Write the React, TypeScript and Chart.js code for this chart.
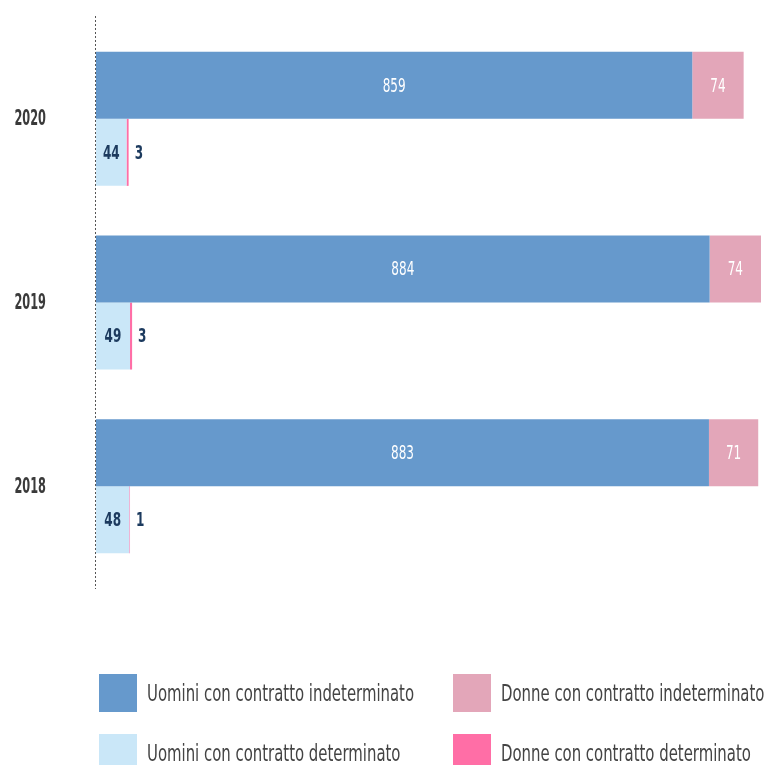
import React, { useEffect, useRef } from "react";
import { Chart, registerables } from "chart.js";

Chart.register(...registerables);

const years = ["2020", "2019", "2018"];
const uominiIndeterminato = [859, 884, 883];
const donneIndeterminato = [74, 74, 71];
const uominiDeterminato = [44, 49, 48];
const donneDeterminato = [3, 3, 1];

const seriesNames = [
  "Uomini con contratto indeterminato",
  "Donne con contratto indeterminato",
  "Uomini con contratto determinato",
  "Donne con contratto determinato",
];
const colors = ["#6699CC", "#E3A6B9", "#CAE7F8", "#FF6EA6"];
const labelColors = ["#FFFFFF", "#FFFFFF", "#1C3A5E", "#1C3A5E"];
const labelWeights = ["normal", "normal", "bold", "bold"];

const FONT = "'DejaVu Sans', sans-serif";

// draw condensed text: squeeze horizontally around an anchor
function drawSqueezed(ctx: any, txt: string, x: number, y: number, align: string, squeeze: number) {
  ctx.save();
  ctx.translate(x, y);
  ctx.scale(squeeze, 1);
  ctx.textAlign = align;
  ctx.fillText(txt, 0, 0);
  ctx.restore();
}

const labelPlugin = {
  id: "valueLabels",
  afterDatasetsDraw(chart: any) {
    const ctx = chart.ctx;
    const SQ = 0.67;
    chart.data.datasets.forEach((ds: any, di: number) => {
      const meta = chart.getDatasetMeta(di);
      meta.data.forEach((el: any, i: number) => {
        const txt = String(ds.data[i]);
        const x0 = Math.min(el.base, el.x);
        const x1 = Math.max(el.base, el.x);
        ctx.save();
        ctx.font = `${labelWeights[di]} condensed 20px ${FONT}`;
        ctx.textBaseline = "middle";
        ctx.fillStyle = labelColors[di];
        const w = ctx.measureText(txt).width * SQ;
        if (x1 - x0 > w + 8) {
          drawSqueezed(ctx, txt, (x0 + x1) / 2, el.y + 1, "center", SQ);
        } else {
          drawSqueezed(ctx, txt, x1 + 6, el.y + 1, "left", SQ);
        }
        ctx.restore();
      });
    });
  },
};

const yLabelPlugin = {
  id: "yLabels",
  afterDraw(chart: any) {
    const ctx = chart.ctx;
    const scale = chart.scales.y;
    ctx.save();
    ctx.font = `bold condensed 21px ${FONT}`;
    ctx.fillStyle = "#3a3a3a";
    ctx.textBaseline = "middle";
    scale.ticks.forEach((t: any, i: number) => {
      const label = scale.getLabelForValue(t.value);
      drawSqueezed(ctx, label, scale.right - 50, scale.getPixelForTick(i) + 1, "right", 0.6);
    });
    ctx.restore();
  },
};

const axisLinePlugin = {
  id: "dottedAxis",
  afterDraw(chart: any) {
    const { ctx, chartArea } = chart;
    ctx.save();
    ctx.strokeStyle = "#555";
    ctx.lineWidth = 1;
    ctx.setLineDash([2, 2]);
    ctx.beginPath();
    ctx.moveTo(chartArea.left - 0.5, chartArea.top - 11);
    ctx.lineTo(chartArea.left - 0.5, chartArea.bottom + 11);
    ctx.stroke();
    ctx.restore();
  },
};

export default function App() {
  const ref = useRef<HTMLCanvasElement>(null);
  useEffect(() => {
    if (!ref.current) return;
    const chart = new Chart(ref.current, {
      type: "bar",
      data: {
        labels: years,
        datasets: [
          { label: seriesNames[0], data: uominiIndeterminato, backgroundColor: colors[0], stack: "ind" },
          { label: seriesNames[1], data: donneIndeterminato, backgroundColor: colors[1], stack: "ind" },
          { label: seriesNames[2], data: uominiDeterminato, backgroundColor: colors[2], stack: "det" },
          { label: seriesNames[3], data: donneDeterminato, backgroundColor: colors[3], stack: "det" },
        ],
      },
      options: {
        indexAxis: "y",
        animation: false,
        responsive: false,
        maintainAspectRatio: false,
        datasets: { bar: { categoryPercentage: 0.73, barPercentage: 1, borderWidth: 0 } },
        layout: { padding: { top: 27, bottom: 187, right: 4, left: 0 } },
        plugins: { legend: { display: false }, tooltip: { enabled: false } },
        scales: {
          x: {
            stacked: true,
            display: false,
            min: 0,
            max: 958,
          },
          y: {
            stacked: true,
            grid: { display: false, drawTicks: false },
            border: { display: false },
            ticks: { display: false },
            afterFit(scale: any) {
              scale.width = 96;
              scale.paddingTop = 0;
              scale.paddingBottom = 0;
            },
          },
        },
      },
      plugins: [labelPlugin, yLabelPlugin, axisLinePlugin],
    });
    return () => chart.destroy();
  }, []);

  const legendItem = (i: number, left: number, top: number) => (
    <div
      key={i}
      style={{ position: "absolute", left, top, display: "flex", alignItems: "center", height: 38 }}
    >
      <div style={{ width: 38, height: 38, background: colors[i], flex: "none" }} />
      <span
        style={{
          marginLeft: 10,
          fontFamily: FONT,
          fontStretch: "condensed",
          fontSize: 22.5,
          color: "#444",
          whiteSpace: "nowrap",
          display: "inline-block",
          transform: "scaleX(0.736)",
          transformOrigin: "left center",
        }}
      >
        {seriesNames[i]}
      </span>
    </div>
  );

  return (
    <div style={{ position: "fixed", left: 0, top: 0, width: 765, height: 765, background: "#fff", overflow: "hidden" }}>
      <canvas ref={ref} width={765} height={765} style={{ position: "absolute", left: 0, top: 0 }} />
      {legendItem(0, 99, 674)}
      {legendItem(1, 453, 674)}
      {legendItem(2, 99, 734)}
      {legendItem(3, 453, 734)}
    </div>
  );
}
